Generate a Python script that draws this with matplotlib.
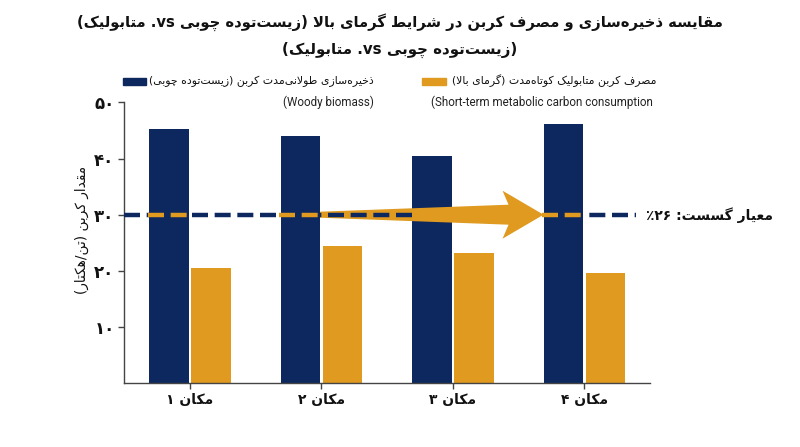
import matplotlib
matplotlib.use('Agg')
import matplotlib.pyplot as plt
from matplotlib.patches import Polygon, Rectangle
import numpy as np

# ---------------- data ----------------
categories = ['مکان ۱', 'مکان ۲', 'مکان ۳', 'مکان ۴']
woody_storage = [45.3, 44.0, 40.5, 46.1]
metabolic_use = [20.6, 24.5, 23.1, 19.6]
threshold = 30
threshold_label = 'معیار گسست: ٪۲۶'
y_ticks = [10, 20, 30, 40, 50]
y_tick_labels = ['۱۰', '۲۰', '۳۰', '۴۰', '۵۰']
title_lines = ['مقایسه ذخیره‌سازی و مصرف کربن در شرایط گرمای بالا (زیست‌توده چوبی vs. متابولیک)',
               '(زیست‌توده چوبی vs. متابولیک)']
y_label = 'مقدار کربن (تن/هکتار)'
legend_woody = ['ذخیره‌سازی طولانی‌مدت کربن (زیست‌توده چوبی)', '(Woody biomass)']
legend_metab = ['مصرف کربن متابولیک کوتاه‌مدت (گرمای بالا)', '(Short-term metabolic carbon consumption']

NAVY = '#0c285e'
ORANGE = '#df9a1f'
AXC = '#444444'
FA = ['DejaVu Sans']
FE = ['Roboto', 'DejaVu Sans']

# ---------------- Persian shaping / bidi helpers ----------------
_FOUR = {'ب': 0xFE8F, 'ت': 0xFE95, 'ث': 0xFE99, 'ج': 0xFE9D, 'ح': 0xFEA1, 'خ': 0xFEA5,
         'س': 0xFEB1, 'ش': 0xFEB5, 'ص': 0xFEB9, 'ض': 0xFEBD, 'ط': 0xFEC1, 'ظ': 0xFEC5,
         'ع': 0xFEC9, 'غ': 0xFECD, 'ف': 0xFED1, 'ق': 0xFED5, 'ل': 0xFEDD, 'م': 0xFEE1,
         'ن': 0xFEE5, 'ه': 0xFEE9, 'ي': 0xFEF1, 'پ': 0xFB56, 'چ': 0xFB7A, 'ک': 0xFB8E,
         'گ': 0xFB92, 'ی': 0xFBFC}
_TWO = {'ا': 0xFE8D, 'آ': 0xFE81, 'أ': 0xFE83, 'إ': 0xFE87, 'د': 0xFEA9, 'ذ': 0xFEAB,
        'ر': 0xFEAD, 'ز': 0xFEAF, 'ژ': 0xFB8A, 'و': 0xFEED, 'ؤ': 0xFE85, 'ة': 0xFE93}
_LAMALEF = {'ا': 0xFEFB, 'آ': 0xFEF5, 'أ': 0xFEF7, 'إ': 0xFEF9}


def _shape(s):
    out = []
    n = len(s)
    i = 0
    while i < n:
        c = s[i]
        prev = s[i - 1] if i > 0 else ''
        pj = prev in _FOUR
        if c == 'ل' and i + 1 < n and s[i + 1] in _LAMALEF:
            out.append(chr(_LAMALEF[s[i + 1]] + (1 if pj else 0)))
            i += 2
            continue
        if c in _FOUR:
            nxt = s[i + 1] if i + 1 < n else ''
            nj = (nxt in _FOUR) or (nxt in _TWO)
            k = 3 if (pj and nj) else 1 if pj else 2 if nj else 0
            out.append(chr(_FOUR[c] + k))
        elif c in _TWO:
            out.append(chr(_TWO[c] + (1 if pj else 0)))
        elif c == '\u200c':
            pass
        else:
            out.append(c)
        i += 1
    return ''.join(out)


def _is_ar(ch):
    o = ord(ch)
    if 0x06F0 <= o <= 0x06F9 or 0x0660 <= o <= 0x0669 or ch == '٪':
        return False
    return 0x0600 <= o <= 0x06FF or 0xFB50 <= o <= 0xFDFF or 0xFE70 <= o <= 0xFEFE


def vis(s):
    if not any(_is_ar(c) for c in s):
        return s
    s = _shape(s)
    t = []
    for c in s:
        if c.isdigit():
            t.append('EN')
        elif c in '%٪':
            t.append('ET')
        elif _is_ar(c):
            t.append('R')
        elif c.isalpha():
            t.append('L')
        else:
            t.append('N')
    changed = True
    while changed:
        changed = False
        for i, x_ in enumerate(t):
            if x_ == 'ET' and ((i > 0 and t[i - 1] == 'EN') or (i + 1 < len(t) and t[i + 1] == 'EN')):
                t[i] = 'EN'
                changed = True
    t = ['N' if x_ == 'ET' else x_ for x_ in t]
    n = len(t)
    lv = [0] * n

    def strong(v):
        return 'R' if v in ('R', 'EN') else v
    for i in range(n):
        if t[i] == 'N':
            p = 'R'
            for j in range(i - 1, -1, -1):
                if t[j] != 'N':
                    p = strong(t[j])
                    break
            q = 'R'
            for j in range(i + 1, n):
                if t[j] != 'N':
                    q = strong(t[j])
                    break
            lv[i] = 2 if (p == 'L' and q == 'L') else 1
        else:
            lv[i] = 1 if t[i] == 'R' else 2
    mirror = {'(': ')', ')': '('}
    chars = [mirror.get(c, c) if lv[i] == 1 else c for i, c in enumerate(s)]
    chars = chars[::-1]
    lv = lv[::-1]
    res = []
    i = 0
    while i < n:
        if lv[i] == 2:
            j = i
            while j < n and lv[j] == 2:
                j += 1
            res.extend(chars[i:j][::-1])
            i = j
        else:
            res.append(chars[i])
            i += 1
    return ''.join(res)


# ---------------- figure ----------------
W, H = 800, 447
fig = plt.figure(figsize=(W / 100, H / 100), dpi=100)
fig.patch.set_facecolor('white')


def fx(px):
    return px / W


def fy(py):
    return 1 - py / H


ax = fig.add_axes([fx(124.3), fy(383.3), fx(650) - fx(124.3), fy(102.3) - fy(383.3)])

x = np.arange(len(categories))
bw = 0.30
off = 0.16
ax.bar(x - off, woody_storage, bw, color=NAVY, zorder=2)
ax.bar(x + off, metabolic_use, bw, color=ORANGE, zorder=2)

XL = (-0.5, 3.5)
YL = (0, 50)
ax.set_xlim(*XL)
ax.set_ylim(*YL)
ax.set_yticks(y_ticks)
ax.set_yticklabels(y_tick_labels, fontfamily=FA, fontweight='bold', fontsize=12)
ax.set_xticks(x)
ax.set_xticklabels([vis(c) for c in categories], fontfamily=FA, fontweight='bold', fontsize=10)
for side in ('top', 'right'):
    ax.spines[side].set_visible(False)
for side in ('left', 'bottom'):
    ax.spines[side].set_color(AXC)
    ax.spines[side].set_linewidth(1.0)
ax.tick_params(axis='both', length=4, width=1, color=AXC, labelcolor='#111111')
ax.tick_params(axis='y', pad=3)
ax.tick_params(axis='x', pad=3)

# pixel -> data scale helpers (for arrow shape sizes)
bb = ax.get_window_extent()
sx = bb.width / (XL[1] - XL[0])
sy = bb.height / (YL[1] - YL[0])


def dxp(px):
    return px / sx


def dyp(px):
    return px / sy


# tapered arrow from right edge of bar 2 to left edge of bar 4 at threshold
navy_left = x - off - bw / 2
navy_right = x - off + bw / 2
a_start = navy_right[1]
a_end = navy_left[3]
head_len, head_half, tail0, tail1, notch = 41, 24, 3.0, 10.0, 6
base = a_end - dxp(head_len)
arrow_verts = [
    (a_start, threshold + dyp(tail0)),
    (base + dxp(notch), threshold + dyp(tail1)),
    (base, threshold + dyp(head_half)),
    (a_end, threshold),
    (base, threshold - dyp(head_half)),
    (base + dxp(notch), threshold - dyp(tail1)),
    (a_start, threshold - dyp(tail0)),
]
ax.add_patch(Polygon(arrow_verts, closed=True, facecolor=ORANGE, edgecolor='none', zorder=3))

# threshold dashed line (navy), interrupted where the arrow body passes
dash = (0, (3.6, 1.5))
lw = 3.2
ax.hlines(threshold, XL[0], navy_left[2], colors=NAVY, linestyles=dash, linewidth=lw, zorder=4)
ax.hlines(threshold, navy_left[3], 3.39, colors=NAVY, linestyles=dash, linewidth=lw, zorder=4,
          clip_on=False)
# orange dashes across navy bars not hidden by the arrow
for i in range(len(x)):
    if a_start <= navy_left[i] and navy_right[i] <= a_end:
        continue
    ax.hlines(threshold, navy_left[i] - 0.01, navy_right[i] + 0.01, colors=ORANGE,
              linestyles=dash, linewidth=lw, zorder=5)

ax.text(3.47, threshold, vis(threshold_label), ha='left', va='center', fontsize=10,
        fontweight='bold', fontfamily=FA, color='#111111', clip_on=False)

# title
fig.text(0.5, fy(22), vis(title_lines[0]), ha='center', va='center', fontsize=10.6,
         fontweight='bold', fontfamily=FA, color='#111111')
fig.text(0.5, fy(50), vis(title_lines[1]), ha='center', va='center', fontsize=10.8,
         fontweight='bold', fontfamily=FA, color='#111111')

# y label
fig.text(fx(82), fy(230), vis(y_label), rotation=90, ha='center', va='center', fontsize=9.8,
         fontfamily=FA, color='#111111')

# legend
sw_h = 7
fig.patches.append(Rectangle((fx(123), fy(81 + sw_h / 2)), fx(146) - fx(123), sw_h / H,
                             transform=fig.transFigure, color=NAVY))
fig.patches.append(Rectangle((fx(422), fy(81 + sw_h / 2)), fx(446) - fx(422), sw_h / H,
                             transform=fig.transFigure, color=ORANGE))
fig.text(fx(374), fy(81), vis(legend_woody[0]), ha='right', va='center', fontsize=7.8,
         fontfamily=FA, color='#111111')
fig.text(fx(374), fy(102), vis(legend_woody[1]), ha='right', va='center', fontsize=8.4,
         fontfamily=FE, color='#222222')
fig.text(fx(657), fy(81), vis(legend_metab[0]), ha='right', va='center', fontsize=7.8,
         fontfamily=FA, color='#111111')
fig.text(fx(653), fy(102), vis(legend_metab[1]), ha='right', va='center', fontsize=8.4,
         fontfamily=FE, color='#222222')

fig.savefig('out.png', dpi=100)
